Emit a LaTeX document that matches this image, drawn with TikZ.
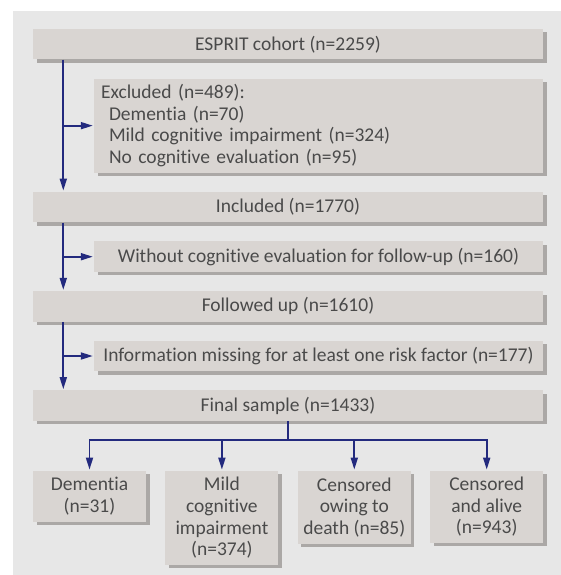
\documentclass[tikz,border=0pt]{standalone}
\usepackage{fontspec}
\setmainfont{Carlito}[Ligatures={NoCommon}]
\usetikzlibrary{arrows.meta,positioning,shadows}
\definecolor{panelgrey}{HTML}{E7E7E7}
\definecolor{boxgrey}{HTML}{D9D5D2}
\definecolor{shadegrey}{HTML}{ABA8A6}
\definecolor{flowblue}{HTML}{232A7E}
\definecolor{textgrey}{HTML}{4A4A4A}
\tikzset{
    %Define standard arrow tip
    >={Triangle[length=12pt,width=7pt]},
    %Define style for boxes
    box/.style={
           rectangle,
           fill=boxgrey,
           drop shadow={shadow xshift=3.5pt,shadow yshift=-3.5pt,
                        fill=shadegrey,opacity=1},
           text=textgrey,
           font=\fontsize{19.5}{21.7}\selectfont,
           minimum height=30.5pt,
           inner sep=0pt,
           text centered},
    mainbox/.style={
           box,
           minimum width=510pt},
    sidebox/.style={
           box,
           minimum width=449pt},
    endbox/.style={
           box,
           minimum width=113pt,
           align=center},
    % Define arrow style
    arr/.style={
           ->,
           line width=1.8pt,
           draw=flowblue,
           shorten >=1pt},
    plain/.style={
           line width=1.8pt,
           draw=flowblue}
}

\begin{document}
\begin{tikzpicture}[x=1pt,y=-1pt]
  \useasboundingbox (0,0) rectangle (561,575);
  \fill[panelgrey] (13,11) rectangle (561,575);

  \node[mainbox] (cohort) at (288,44.25) {ESPRIT cohort (n=2259)};
  \node[sidebox, align=left, text width=435pt, inner xsep=7pt, minimum height=94pt,
        below=18.75pt of cohort.south east, anchor=north east] (excluded)
        {Excluded (n=489):\\
         \hspace*{8pt}Dementia (n=70)\\
         \hspace*{8pt}Mild cognitive impairment (n=324)\\
         \hspace*{8pt}No cognitive evaluation (n=95)};
  \node[mainbox, below=18.75pt of excluded.south east, anchor=north east] (included)
        {Included (n=1770)};
  \node[sidebox, below=18.75pt of included.south east, anchor=north east] (nofollow)
        {Without cognitive evaluation for follow-up (n=160)};
  \node[mainbox, below=18.75pt of nofollow.south east, anchor=north east] (followed)
        {Followed up (n=1610)};
  \node[sidebox, below=18.75pt of followed.south east, anchor=north east] (missing)
        {Information missing for at least one risk factor (n=177)};
  \node[mainbox, below=18.75pt of missing.south east, anchor=north east] (final)
        {Final sample (n=1433)};

  \node[endbox, minimum height=51pt, below=49.5pt of final.south west, anchor=north west] (dementia)
        {Dementia\\(n=31)};
  \node[endbox, minimum height=94pt, right=19pt of dementia.north east, anchor=north west] (mci)
        {Mild\\cognitive\\impairment\\(n=374)};
  \node[endbox, minimum height=73pt, right=19pt of mci.north east, anchor=north west] (death)
        {Censored\\owing to\\death (n=85)};
  \node[endbox, minimum height=72pt, right=19pt of death.north east, anchor=north west] (alive)
        {Censored\\and alive\\(n=943)};

  % left spine
  \coordinate (spine) at (63.3,0);
  \draw[arr] (cohort.south -| spine) -- (included.north -| spine);
  \draw[arr] (excluded.west -| spine) -- (excluded.west);
  \draw[arr] (included.south -| spine) -- (followed.north -| spine);
  \draw[arr] (nofollow.west -| spine) -- (nofollow.west);
  \draw[arr] (followed.south -| spine) -- (final.north -| spine);
  \draw[arr] (missing.west -| spine) -- (missing.west);

  % split of final sample
  \coordinate[below=18.5pt of final.south] (fork);
  \draw[plain] (final.south) -- (fork);
  \foreach \n in {dementia,mci,death,alive}
    \draw[arr] (fork) -| (\n.north);
\end{tikzpicture}
\end{document}
